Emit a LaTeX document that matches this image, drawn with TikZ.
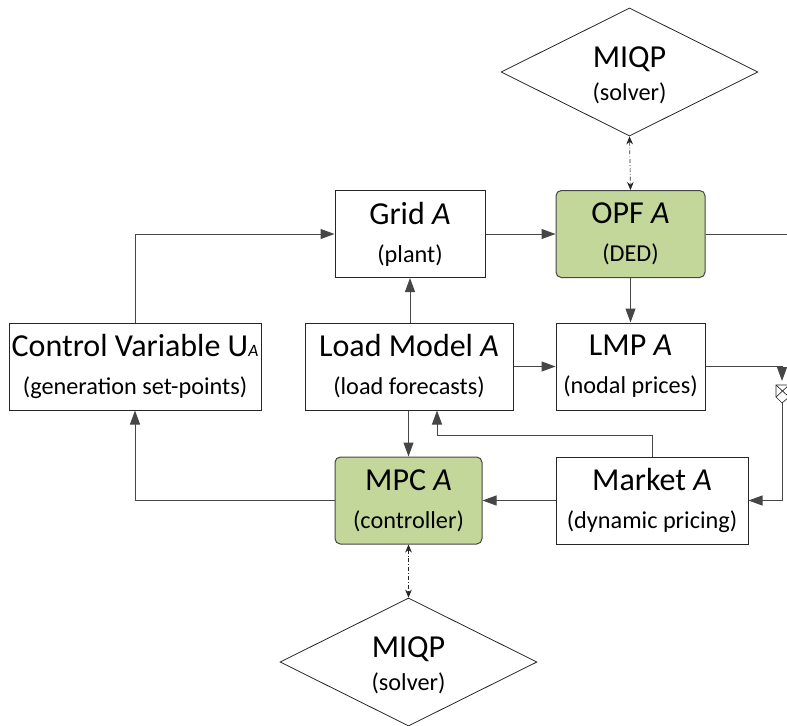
\documentclass[tikz,border=0pt]{standalone}
\usepackage{fontspec}
\setmainfont{Carlito}
\usetikzlibrary{shapes.geometric,arrows.meta,calc}

\definecolor{oliveFill}{RGB}{196,215,155}
\definecolor{lineGray}{RGB}{70,70,70}

% two-line label: title on top, description underneath (optional extra gap)
\newcommand\boxlabel[3][14pt]{{\fontsize{24}{28}\selectfont #2}\\[#1]{\fontsize{18.2}{28}\selectfont #3}}
% small italic index sitting on the baseline
\newcommand\idx[1]{{\fontsize{13}{13}\selectfont\textit{#1}}}

\tikzset{
  block/.style={draw=black!85, line width=0.75pt, fill=white, align=center,
    inner sep=0pt, minimum height={87*0.75pt}},
  ctrl/.style={block, fill=oliveFill, draw=lineGray, rounded corners=4pt},
  solver/.style={draw=black!85, line width=0.6pt, fill=white, shape=diamond,
    aspect=2, inner sep=0pt, align=center,
    minimum width={257*0.75pt}, minimum height={128*0.75pt}},
  flow/.style={draw=lineGray, line width=0.75pt,
    -{Triangle[length=10.5pt,width=7.5pt]}},
  wire/.style={draw=lineGray, line width=0.75pt},
  query/.style={draw=black!85, line width=0.5pt, dash pattern=on 3pt off 1.5pt on 0.6pt off 1.5pt,
    {Stealth[length=6pt,width=5pt]}-{Stealth[length=6pt,width=5pt]}},
}

\begin{document}
\begin{tikzpicture}[x=0.75pt, y=-0.75pt]
  \useasboundingbox (0,0) rectangle (787,725);
  \clip (0,0) rectangle (787,725);

  % blocks
  \node[block, minimum width={150*0.75pt}] (grid) at (410,234)
    {\boxlabel{Grid \textit{A}}{(plant)}};
  \node[ctrl, minimum width={149*0.75pt}] (opf) at (630.5,234)
    {\boxlabel{OPF \textit{A}}{(DED)}};
  \node[block, minimum width={252*0.75pt}] (cv) at (135,366.5)
    {\boxlabel{Control Variable U\idx{A}}{(generation set-points)}};
  \node[block, minimum width={208*0.75pt}] (load) at (409,366.5)
    {\boxlabel{Load Model \textit{A}}{(load forecasts)}};
  \node[block, minimum width={149*0.75pt}] (lmp) at (630.5,366.5)
    {\boxlabel{LMP \textit{A}}{(nodal prices)}};
  \node[ctrl, minimum width={147*0.75pt}] (mpc) at (408.5,500.5)
    {\boxlabel{MPC \textit{A}}{(controller)}};
  \node[block, minimum width={192*0.75pt}] (market) at (652,500.5)
    {\boxlabel{Market \textit{A}}{(dynamic pricing)}};

  % solvers
  \node[solver] (miqpTop) at (629.5,72) {};
  \node[align=center] at (629.5,75) {\boxlabel[7pt]{MIQP}{(solver)}};
  \node[solver] (miqpBot) at (408.5,662) {};
  \node[align=center] at (408.5,665) {\boxlabel[7pt]{MIQP}{(solver)}};

  % free ends on the right border
  \coordinate (outOpf) at (790,234);
  \coordinate (jTop) at (782,381);
  \coordinate (jBot) at (782,403);

  % signal flow
  \draw[flow] (cv.north) |- (grid.west);
  \draw[flow] (grid.east) -- (opf.west);
  \draw[wire] (opf.east) -- (outOpf);
  \draw[flow] (opf.south) -- (lmp.north);
  \draw[flow] (load.north -| grid.south) -- (grid.south);
  \draw[flow] (load.east |- lmp.west) -- (lmp.west);
  \draw[flow] (lmp.east) -| (jTop);
  \draw[flow] (jBot) |- (market.east);
  \draw[flow] (load.south -| mpc.north) -- (mpc.north);
  \draw[flow] (market.north) -- ++(0,-21) -| ($(load.south)+(28,0)$);
  \draw[flow] (market.west) -- (mpc.west -| mpc.east);
  \draw[flow] (mpc.west) -| (cv.south);

  % crossing marker on the return line
  \draw[draw=black!85, line width=0.5pt, fill=white]
    (776,385) -- (789,385) -- (789,397) -- (782,403) -- (776,397) -- cycle;
  \draw[draw=black!85, line width=0.5pt] (776,385) -- (789,397) (789,385) -- (776,397);

  % solver queries
  \draw[query] (miqpTop.south) -- (opf.north);
  \draw[query] (mpc.south) -- (miqpBot.north);
\end{tikzpicture}
\end{document}
